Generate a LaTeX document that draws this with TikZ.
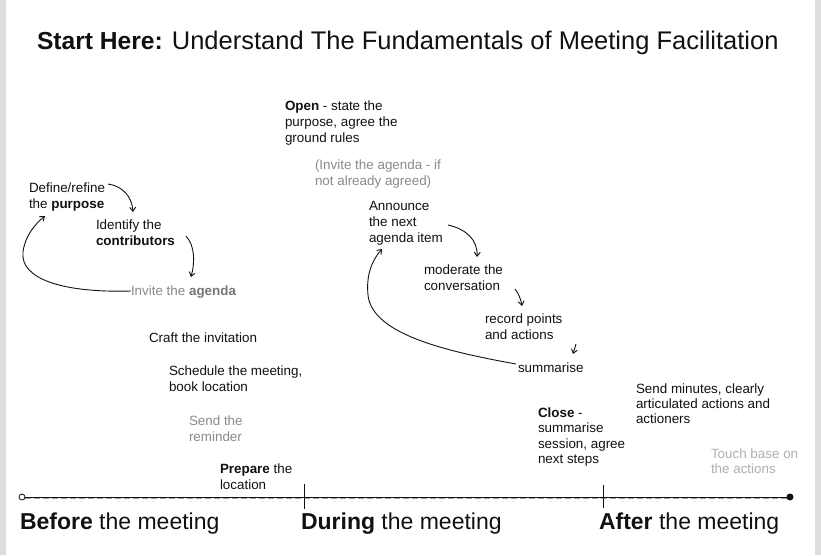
\documentclass[tikz,border=0pt]{standalone}
\usepackage{fontspec}
\setmainfont{Liberation Sans}
\usetikzlibrary{arrows.meta,calc}
\definecolor{ink}{HTML}{111111}
\definecolor{midgray}{HTML}{8A8A8A}
\definecolor{darkgray2}{HTML}{777777}
\definecolor{lightgray2}{HTML}{B0B0B0}
\definecolor{edgegray}{HTML}{DDDDDD}
\definecolor{dashgray}{HTML}{A0A0A0}
\begin{document}
\begin{tikzpicture}[x=1pt,y=-1pt,
  every node/.style={inner sep=0pt,outer sep=0pt,anchor=base west,align=left},
  small/.style={font=\fontsize{13.4}{16}\selectfont,text=ink},
  greytext/.style={font=\fontsize{13.4}{16}\selectfont,text=midgray},
  faint/.style={font=\fontsize{13.4}{15}\selectfont,text=lightgray2},
  big/.style={font=\fontsize{23}{26}\selectfont,text=ink},
  flow/.style={draw=ink,line width=0.9pt,-{Straight Barb[length=4pt,width=6pt]}},
  tline/.style={draw=ink,line width=1pt}]
\useasboundingbox (0,0) rectangle (821,555);
\fill[white] (0,0) rectangle (821,555);
\fill[edgegray] (0,0) rectangle (6,555);
\fill[edgegray] (815,0) rectangle (821,555);

% title (base anchor = baseline of last line)
\node[font=\fontsize{24.6}{28}\selectfont,text=ink] (title) at (37,49) {\textbf{Start Here:} {\fontsize{25.5}{28}\selectfont Understand The Fundamentals of Meeting Facilitation}};

% before
\node[small] (define) at (29,208) {Define/refine\\the \textbf{purpose}};
\node[small] (identify) at (96,245) {Identify the\\\textbf{contributors}};
\node[greytext] (invite) at (131,295) {Invite the \textcolor{darkgray2}{\textbf{agenda}}};
\node[small] (craft) at (149,342) {Craft the invitation};
\node[small] (schedule) at (169,391) {Schedule the meeting,\\book location};
\node[greytext] (remind) at (189,441) {Send the\\reminder};
\node[small] (prepare) at (220,489) {\textbf{Prepare} the\\location};

% during
\node[small] (open) at (285,142) {\textbf{Open} - state the\\purpose, agree the\\ground rules};
\node[greytext] (inviteagenda) at (315,185) {(Invite the agenda - if\\not already agreed)};
\node[small] (announce) at (369,242) {Announce\\the next\\agenda item};
\node[small] (moderate) at (424,290) {moderate the\\conversation};
\node[small] (record) at (485,339) {record points\\and actions};
\node[small] (summ) at (518,372) {summarise};
\node[small,font=\fontsize{13.4}{15.5}\selectfont] (close) at (538,463.5) {\textbf{Close} -\\summarise\\session, agree\\next steps};

% after
\node[small,font=\fontsize{13.4}{15}\selectfont] (minutes) at (636,423) {Send minutes, clearly\\articulated actions and\\actioners};
\node[faint] (touch) at (711,473) {Touch base on\\the actions};

% arrows before
\coordinate (a1s) at (108,184);
\coordinate (a1e) at (133,212);
\draw[flow] (a1s) .. controls (122,186) and (132,196) .. (a1e);
\coordinate (a2s) at (186,236);
\coordinate (a2e) at (191,277);
\draw[flow] (a2s) .. controls (195,246) and (195,262) .. (a2e);
\coordinate (a3e) at (45,216);
\draw[flow] (invite.west |- 0,291) .. controls (60,293) and (20,278) .. (23,252) .. controls (25,236) and (35,224) .. (a3e);

% arrows during
\coordinate (b1s) at (448,225);
\coordinate (b1e) at (477,257);
\draw[flow] (b1s) .. controls (466,229) and (478,240) .. (b1e);
\coordinate (b2s) at (515,289);
\coordinate (b2e) at (522,306);
\draw[flow] (b2s) .. controls (519,294) and (521,300) .. (b2e);
\coordinate (b3s) at (576,344);
\coordinate (b3e) at (573,354);
\draw[flow] (b3s) -- (b3e);
\coordinate (b4s) at (516,364);
\coordinate (b4e) at (382,249);
\draw[flow] (b4s) .. controls (450,352) and (372,335) .. (368,295) .. controls (366,275) and (372,260) .. (b4e);

% timeline
\coordinate (tstart) at (22,497);
\coordinate (tend) at (790,497);
\draw[dashgray,line width=0.4pt,dash pattern=on 6pt off 3pt] (25,498.6) -- (787,498.6);
\draw[tline] (25,497) -- (tend);
\draw[ink,line width=0.8pt,fill=white] (tstart) circle (3pt);
\fill[ink] (tend) circle (3.5pt);
\coordinate (tick1) at (304,497);
\coordinate (tick2) at (603,497);
\draw[tline,line width=0.8pt] ($(tick1)+(0,-13)$) -- ($(tick1)+(0,12)$);
\draw[tline,line width=0.8pt] ($(tick2)+(0,-12)$) -- ($(tick2)+(0,11)$);

\node[big] (before) at (20,529) {\textbf{Before} the meeting};
\node[big] (during) at (301,529) {\textbf{During} the meeting};
\node[big] (after) at (599,529) {\textbf{After} the meeting};
\end{tikzpicture}
\end{document}
